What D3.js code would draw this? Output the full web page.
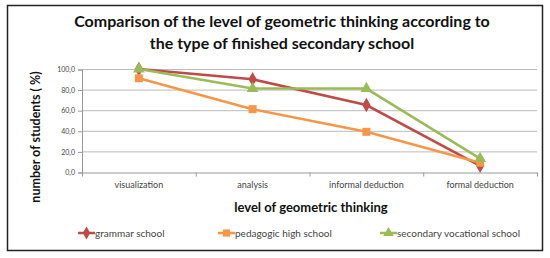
<!DOCTYPE html>
<html>
<head>
<meta charset="utf-8">
<script src="https://cdn.jsdelivr.net/npm/d3@7"></script>
<style>
body { margin: 0; background: #fff; }
text { font-family: Lato, "Open Sans", sans-serif; }
</style>
</head>
<body>
<svg id="chart" width="550" height="258"></svg>
<script>
var levels = ["visualization", "analysis", "informal deduction", "formal deduction"];
var grammar = [100, 90, 65, 6];
var pedagogic = [91, 61, 39, 9];
var vocational = [100, 81, 81, 13];
var yTicks = [0, 20, 40, 60, 80, 100];

var series = [
    { name: "grammar school", values: grammar, color: "#be4b48", symbol: d3.symbolDiamond, size: 60 },
    { name: "pedagogic high school", values: pedagogic, color: "#f79646", symbol: d3.symbolSquare, size: 64 },
    { name: "secondary vocational school", values: vocational, color: "#9bbb59", symbol: d3.symbolTriangle, size: 60 }
];

var svg = d3.select("#chart");

// outer frame
svg.append("rect")
.attr("x", 7.5).attr("y", 5.5)
.attr("width", 535).attr("height", 245)
.attr("fill", "#fff")
.attr("stroke", "#222")
.attr("stroke-width", 1.5);

var x = d3.scaleBand().domain(levels).range([82, 537]);
var y = d3.scaleLinear().domain([0, 100]).range([172, 69]);

// grid
svg.append("g").selectAll("line")
.data(yTicks.slice(1))
.enter().append("line")
.attr("x1", 82).attr("x2", 537)
.attr("y1", function(d) { return y(d) + 0.5; })
.attr("y2", function(d) { return y(d) + 0.5; })
.attr("stroke", "#bbb");

// y axis
var yAxis = svg.append("g")
.attr("transform", "translate(82,0.5)")
.call(d3.axisLeft(y).tickValues(yTicks).tickSize(4).tickFormat(function(d) { return d.toFixed(1).replace(".", ","); }));
yAxis.select(".domain").attr("stroke", "#999");
yAxis.selectAll(".tick line").attr("stroke", "#999");
yAxis.selectAll("text").attr("font-size", 7).attr("fill", "#444").attr("x", -7);

// x axis
var xAxis = svg.append("g")
.attr("transform", "translate(0," + (y(0) + 0.5) + ")")
.call(d3.axisBottom(x).tickSize(0).tickPadding(9));
xAxis.select(".domain").attr("stroke", "#999");
xAxis.selectAll("text").attr("font-size", 9).attr("fill", "#444");
xAxis.selectAll(".bound")
.data(x.domain().map(function(d) { return x(d); }).concat([x.range()[1]]))
.enter().append("line")
.attr("x1", function(d) { return d + 0.5; })
.attr("x2", function(d) { return d + 0.5; })
.attr("y1", 0).attr("y2", 4)
.attr("stroke", "#999");

var cx = function(d, i) { return x(levels[i]) + x.bandwidth() / 2; };

var line = d3.line()
.x(cx)
.y(function(d) { return y(d); });

series.forEach(function(s) {
    svg.append("path")
    .datum(s.values)
    .attr("d", line)
    .attr("fill", "none")
    .attr("stroke", s.color)
    .attr("stroke-width", 2.5);
});

series.forEach(function(s) {
    svg.append("g").selectAll("path")
    .data(s.values)
    .enter().append("path")
    .attr("d", d3.symbol().type(s.symbol).size(s.size))
    .attr("transform", function(d, i) { return "translate(" + cx(d, i) + "," + y(d) + ")"; })
    .attr("fill", s.color);
});

// titles
var title = svg.append("text")
.attr("x", 282).attr("y", 27)
.attr("text-anchor", "middle")
.attr("font-size", 16).attr("font-weight", "bold").attr("fill", "#111");
title.append("tspan").attr("x", 282).text("Comparison of the level of geometric thinking according to");
title.append("tspan").attr("x", 282).attr("dy", 22).text("the type of finished secondary school");

svg.append("text")
.attr("x", 311).attr("y", 212)
.attr("text-anchor", "middle")
.attr("font-size", 13).attr("font-weight", "bold").attr("fill", "#111")
.text("level of geometric thinking");

svg.append("text")
.attr("transform", "translate(40,137) rotate(-90)")
.attr("text-anchor", "middle")
.attr("font-size", 12.5).attr("font-weight", "bold").attr("fill", "#111")
.text("number of students ( %)");

// legend
var legendX = [78, 218, 380];
series.forEach(function(s, i) {
    var g = svg.append("g").attr("transform", "translate(" + legendX[i] + ",233)");
    g.append("line").attr("x1", 0).attr("x2", 17).attr("stroke", s.color).attr("stroke-width", 2.5);
    g.append("path").attr("d", d3.symbol().type(s.symbol).size(s.size * 0.8)).attr("transform", "translate(8.5,0)").attr("fill", s.color);
    g.append("text").attr("x", 17).attr("y", 3.5).attr("font-size", 10).attr("fill", "#444").text(s.name);
});
</script>
</body>
</html>
